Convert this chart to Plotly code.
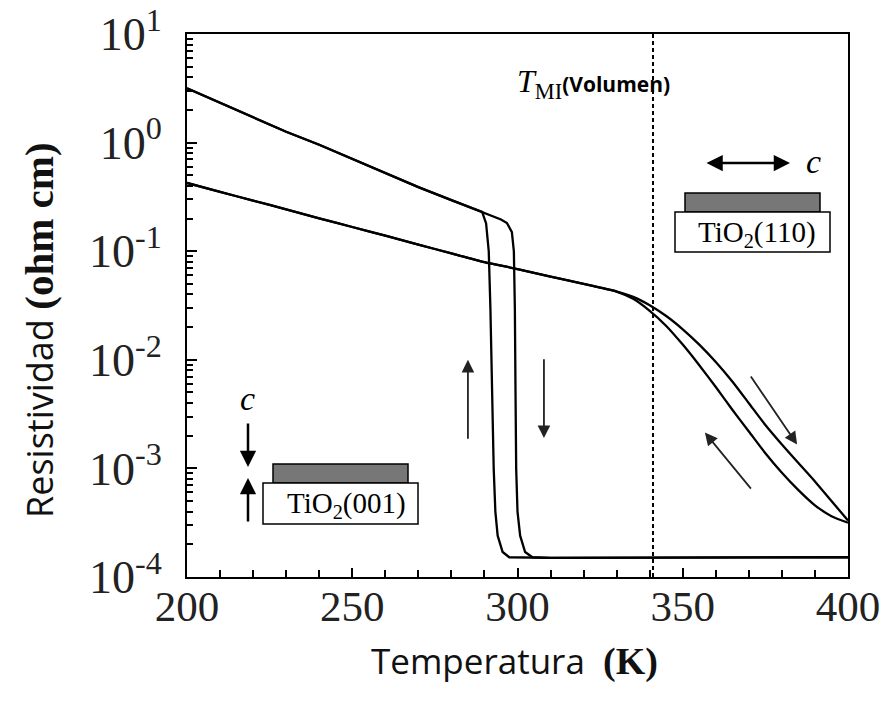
import plotly.graph_objects as go

# ---------------- data ----------------
# VO2 film on TiO2(001): heating / cooling branches
T_001_heat = [200, 210, 220, 230, 240, 250, 260, 270, 280, 289, 292, 295, 296.8, 298.3,
              298.9, 299.2, 299.4, 299.6, 300.0, 300.8, 302.3, 304.5, 310, 330, 350, 370, 400]
R_001_heat = [3.16, 2.32, 1.70, 1.26, 0.955, 0.708, 0.519, 0.389, 0.295, 0.23, 0.212, 0.196, 0.182, 0.15,
              0.10, 0.03, 0.005, 0.001, 4e-4, 2.4e-4, 1.7e-4, 1.52e-4, 1.5e-4, 1.5e-4, 1.5e-4, 1.5e-4, 1.52e-4]

T_001_cool = [200, 210, 220, 230, 240, 250, 260, 270, 280, 289.3, 290.5, 291.3, 291.8, 292.3,
              292.8, 293.3, 294.0, 295.5, 297.5, 310, 330, 350, 370, 400]
R_001_cool = [3.16, 2.32, 1.70, 1.26, 0.955, 0.708, 0.519, 0.389, 0.295, 0.23, 0.18, 0.10, 0.03, 0.005,
              0.001, 4e-4, 2.4e-4, 1.7e-4, 1.52e-4, 1.5e-4, 1.5e-4, 1.5e-4, 1.5e-4, 1.52e-4]

# VO2 film on TiO2(110)
T_110_shared = [200, 210, 220, 230, 240, 250, 260, 270, 280, 290, 300, 310, 320, 325, 330]
R_110_shared = [0.425, 0.352, 0.292, 0.243, 0.201, 0.167, 0.139, 0.115, 0.0955, 0.0794,
                0.0684, 0.0582, 0.0501, 0.0463, 0.0425]
T_110_branch = [335, 340, 345, 350, 355, 360, 365, 370, 375, 380, 385, 390, 395, 400]
R_110_heat = [0.0380, 0.0318, 0.0253, 0.0191, 0.0138, 0.00955, 0.00631, 0.00398, 0.00251, 0.00166,
              0.00112, 0.000759, 0.000501, 0.000331]
R_110_cool = [0.0364, 0.0282, 0.0205, 0.0138, 0.00891, 0.00562, 0.00347, 0.00219, 0.00138, 0.000912,
              0.000631, 0.000457, 0.000363, 0.000316]

T_MI_bulk = 341

x_ticks = [200, 250, 300, 350, 400]
y_exps = [-4, -3, -2, -1, 0, 1]

# ---------------- figure ----------------
fig = go.Figure()
line = dict(color="black", width=2.3, shape="spline", smoothing=0.6)
fig.add_trace(go.Scatter(x=T_001_heat, y=R_001_heat, mode="lines", line=dict(color="black", width=2.3)))
fig.add_trace(go.Scatter(x=T_001_cool, y=R_001_cool, mode="lines", line=dict(color="black", width=2.3)))
fig.add_trace(go.Scatter(x=T_110_shared + T_110_branch, y=R_110_shared + R_110_heat, mode="lines", line=line))
fig.add_trace(go.Scatter(x=T_110_shared + T_110_branch, y=R_110_shared + R_110_cool, mode="lines", line=line))
fig.add_trace(go.Scatter(x=[T_MI_bulk, T_MI_bulk], y=[1e-4, 10], mode="lines",
                         line=dict(color="black", width=2, dash="4px,3px")))

# geometry helpers (plot area in pixels)
L, R, TOP, BOT = 187, 848, 34, 577
W, H = R - L, BOT - TOP
def px(xp):
    return (xp - L) / W
def py(yp):
    return (BOT - yp) / H

shapes = []
# TiO2(110) inset
shapes.append(dict(type="rect", xref="paper", yref="paper", x0=px(685), x1=px(820), y0=py(212), y1=py(193),
                   fillcolor="#777777", line=dict(color="black", width=1.5)))
shapes.append(dict(type="rect", xref="paper", yref="paper", x0=px(675), x1=px(830), y0=py(252), y1=py(212),
                   fillcolor="white", line=dict(color="black", width=1.5)))
# TiO2(001) inset
shapes.append(dict(type="rect", xref="paper", yref="paper", x0=px(273), x1=px(408), y0=py(483), y1=py(464),
                   fillcolor="#777777", line=dict(color="black", width=1.5)))
shapes.append(dict(type="rect", xref="paper", yref="paper", x0=px(263), x1=px(418), y0=py(524), y1=py(483),
                   fillcolor="white", line=dict(color="black", width=1.5)))

serif = "Liberation Serif"
sans = "Open Sans"
ann = []
def label(xp, yp, text, size, family=serif, **kw):
    d = dict(xref="paper", yref="paper", x=px(xp), y=py(yp), xanchor="center", yanchor="middle",
             text=text, showarrow=False, font=dict(family=family, size=size, color="black"))
    d.update(kw)
    ann.append(d)

label(757, 234, "TiO<sub>2</sub>(110)", 29)
label(346, 505, "TiO<sub>2</sub>(001)", 29)
label(813, 162, "<i>c</i>", 34)
label(247, 398, "<i>c</i>", 34)

# double arrow (110)
ann.append(dict(xref="paper", yref="paper", x=px(790), y=py(163), ax=705 - 790, ay=0, text="",
                showarrow=True, arrowhead=2, arrowside="end+start", arrowsize=1.3, arrowwidth=2.5,
                arrowcolor="black"))
# compressive arrows (001)
ann.append(dict(xref="paper", yref="paper", x=px(248), y=py(467), ax=0, ay=422 - 467, text="",
                showarrow=True, arrowhead=2, arrowsize=1.3, arrowwidth=2.5, arrowcolor="black"))
ann.append(dict(xref="paper", yref="paper", x=px(248), y=py(478), ax=0, ay=523 - 478, text="",
                showarrow=True, arrowhead=2, arrowsize=1.3, arrowwidth=2.5, arrowcolor="black"))

# heating / cooling arrows in data coordinates (log10 for y)
arrows = [((285.0, -2.00), (285.0, -2.74)),
          ((308.0, -2.72), (308.0, -1.98)),
          ((384.6, -2.78), (370.3, -2.14)),
          ((356.7, -2.67), (371.0, -3.20))]
for (hx, hy), (tx, ty) in arrows:
    ann.append(dict(xref="x", yref="y", axref="x", ayref="y", x=hx, y=hy, ax=tx, ay=ty, text="",
                    showarrow=True, arrowhead=2, arrowsize=1.4, arrowwidth=1.8, arrowcolor="#222222"))

# T_MI label
label(515, 83, ("<i>T</i><sub>MI</sub>"
                "<span style='font-family:Open Sans;font-size:21px;font-weight:bold'>(Volumen)</span>"),
      32, xanchor="left")

# axis titles
label(514, 660, ("Temperatura  "
                 "<span style='font-family:Liberation Serif;font-weight:bold;font-size:38px'>(K)</span>"),
      35, family=sans)
ann[-1]["font"]["color"] = "#111111"
label(40, 330, ("Resistividad "
                "<span style='font-family:Liberation Serif;font-weight:bold;font-size:41px'>(ohm cm)</span>"),
      36, family=sans, textangle=-90)
ann[-1]["font"]["color"] = "#111111"

minor_y = [m * 10.0 ** e for e in y_exps[:-1] for m in range(2, 10)]

fig.update_layout(
    width=884, height=706,
    margin=dict(l=L, r=884 - R, t=TOP, b=706 - BOT, autoexpand=False),
    paper_bgcolor="white", plot_bgcolor="white",
    showlegend=False,
    shapes=shapes, annotations=ann,
    xaxis=dict(range=[200, 400], tickvals=x_ticks, ticktext=[str(v) for v in x_ticks],
               ticks="inside", ticklen=9, tickwidth=2, tickcolor="black", automargin=False,
               minor=dict(dtick=10, ticks="inside", ticklen=7, tickwidth=1.5, tickcolor="black"),
               showline=True, linewidth=2, linecolor="black", mirror=True, showgrid=False,
               zeroline=False, ticklabelstandoff=-10,
               tickfont=dict(family=serif, size=43, color="#222222")),
    yaxis=dict(type="log", range=[-4, 1], tickvals=[10.0 ** e for e in y_exps],
               ticktext=["10<sup>%d</sup>" % e for e in y_exps], automargin=False,
               ticks="inside", ticklen=10, tickwidth=2, tickcolor="black",
               minor=dict(tickvals=minor_y, ticks="inside", ticklen=6, tickwidth=1.5, tickcolor="black"),
               showline=True, linewidth=2, linecolor="black", mirror=True, showgrid=False,
               zeroline=False, ticklabelstandoff=14,
               tickfont=dict(family=serif, size=46, color="#222222")),
)

fig.write_html("out.html", post_script="document.body.style.margin='0';",
               config={"displayModeBar": False})
